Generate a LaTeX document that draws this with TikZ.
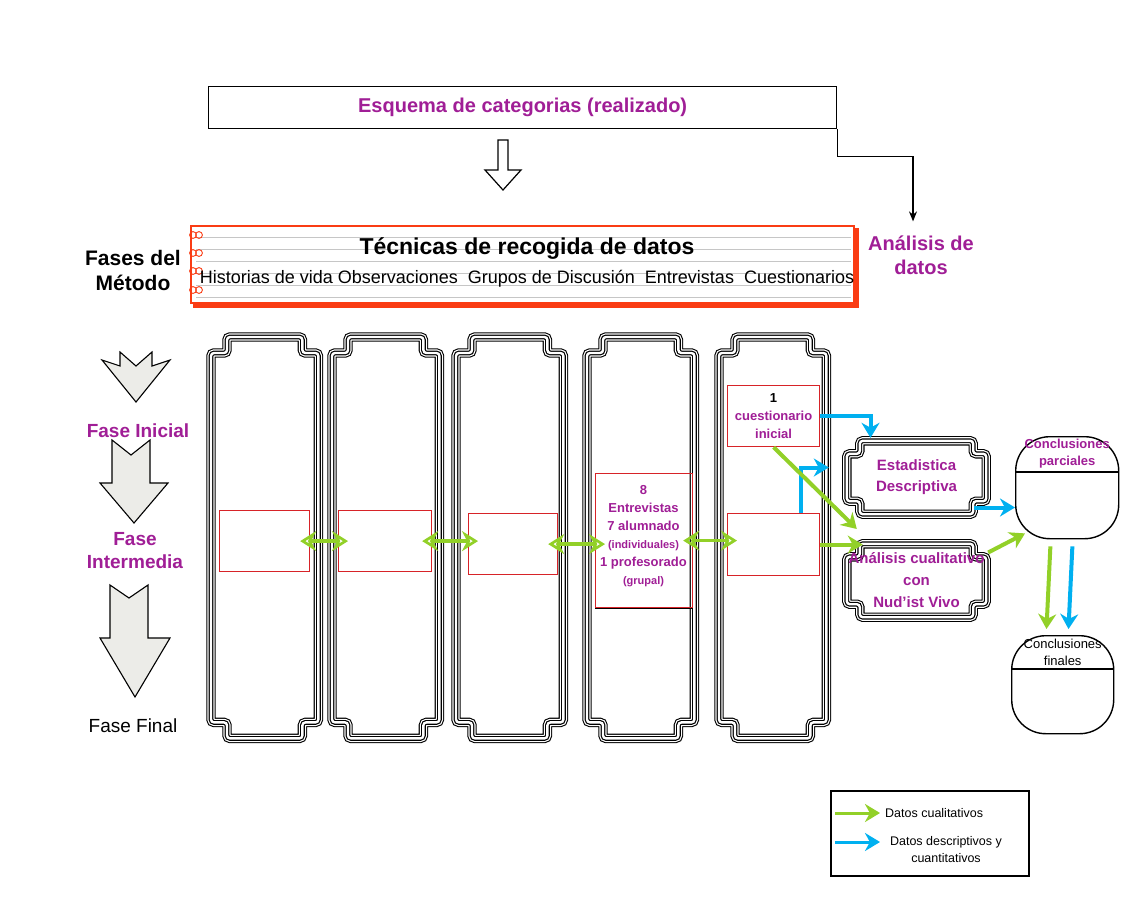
\documentclass[tikz,border=0pt]{standalone}
\usepackage{fontspec}
\setmainfont{Liberation Sans}
\usetikzlibrary{arrows.meta,calc}

\definecolor{magtext}{RGB}{160,30,150}
\definecolor{notered}{RGB}{250,60,20}
\definecolor{boxred}{RGB}{215,35,40}
\definecolor{qualgreen}{RGB}{146,208,40}
\definecolor{quantblue}{RGB}{0,176,240}
\definecolor{chevgray}{RGB}{236,236,232}

\newcommand\fsize[2]{\fontsize{#1}{#2}\selectfont}

% four parallel outlines with notched corners round a node
\newcommand\plaque[2]{%
  \foreach \lw/\clr in {9.4/black,7.2/white,4.8/black,2.4/white}
    \draw[line width=\lw pt,draw=\clr,rounded corners=3pt]
      let \p1=(#1.north west), \p2=(#1.south east) in
      (\x1,\y1-#2) -- (\x1+#2,\y1-#2) -- (\x1+#2,\y1) -- (\x2-#2,\y1)
      -- (\x2-#2,\y1-#2) -- (\x2,\y1-#2) -- (\x2,\y2+#2) -- (\x2-#2,\y2+#2)
      -- (\x2-#2,\y2) -- (\x1+#2,\y2) -- (\x1+#2,\y2+#2) -- (\x1,\y2+#2) -- cycle;
}

\begin{document}
\begin{tikzpicture}[x=1pt,y=-1pt,
    txt/.style={inner sep=0pt, align=center},
    magtxt/.style={txt, text=magtext, font=\bfseries\fsize{20}{24}},
    redbox/.style={draw=boxred, line width=1.2pt, inner sep=0pt, anchor=north west, align=center},
    colbox/.style={inner sep=0pt, anchor=north west, minimum width=107pt, minimum height=401pt},
    platebox/.style={inner sep=0pt, minimum width=139pt, minimum height=73pt},
    conclbox/.style={draw, line width=1.4pt, rounded corners=34pt, inner sep=0pt, anchor=north west},
    chev/.style={draw, line width=1.1pt, fill=chevgray, line join=miter},
    qual/.style={qualgreen, line width=4pt, -{Stealth[length=15pt,width=18pt]}},
    quant/.style={quantblue, line width=4pt, -{Stealth[length=15pt,width=18pt]}},
    dbl/.style={qualgreen, line width=3.6pt,
      {Stealth[open,length=16pt,width=20pt]}-{Stealth[open,length=16pt,width=20pt]},
      shorten <=-10pt, shorten >=-10pt}]

\useasboundingbox (0,0) rectangle (1130,907);
\fill[white] (0,0) rectangle (1130,907);

% category scheme and link to the analysis
\node[draw, line width=1.3pt, minimum width=628pt, minimum height=42pt, inner sep=0pt,
  anchor=north west, text=magtext, font=\bfseries\fsize{20}{24}] (esquema) at (208,86)
  {Esquema de categorias (realizado)};
\node[magtxt] (analisis) at (921,255) {Análisis de\\datos};
\draw[line width=1.2pt, -{Stealth[length=10pt,width=8pt]}, shorten >=14pt]
  (esquema.south east) -- ++(0,27) -| ([xshift=-8pt]analisis.north);
\draw[line width=1.2pt, fill=white] (498,140) -- (508,140) -- (508,170) -- (521,170)
  -- (503,190) -- (485,170) -- (498,170) -- cycle;

% notebook with the data collection techniques
\foreach \yy in {237,249,...,297}
  \draw[gray!45, line width=0.7pt] (196,\yy) -- (851,\yy);
\node[draw=notered, line width=1.8pt, minimum width=663pt, minimum height=77pt,
  inner sep=0pt, anchor=north west] (tecnicas) at (190,225) {};
\draw[notered, line width=3.5pt] ([xshift=2pt,yshift=-3pt]tecnicas.north east)
  |- ([xshift=3pt,yshift=-2pt]tecnicas.south west);
\foreach \yy in {235,253,271,290}
  \draw[notered, line width=0.9pt] (193,\yy) circle (3.4pt) (199,\yy) circle (3.4pt);
\node[txt, font=\bfseries\fsize{23}{27}] (tectit) at (527,249) {Técnicas de recogida de datos};
\node[txt, font=\fsize{18}{21}] (tecrow) at (527,279)
  {Historias de vida Observaciones~~Grupos de Discusión~~Entrevistas~~Cuestionarios};
\node[txt, font=\bfseries\fsize{21}{25}] (fases) at (133,270) {Fases del\\Método};

% phase arrows
\draw[chev] (102,360) -- (120,366) -- (120,352) -- (136,366) -- (152,352) -- (152,366)
  -- (170,360) -- (136,402) -- cycle;
\draw[chev] (112,440) -- (131,455) -- (150,440) -- (150,483) -- (168,483) -- (134,523)
  -- (100,483) -- (112,483) -- cycle;
\draw[chev] (110,585) -- (129,598) -- (148,585) -- (148,638) -- (170,638) -- (135,697)
  -- (100,638) -- (110,638) -- cycle;
\node[magtxt, font=\bfseries\fsize{19}{23}] (finicial) at (138,431) {Fase Inicial};
\node[magtxt, font=\bfseries\fsize{19}{23}] (fintermedia) at (135,551) {Fase\\Intermedia};
\node[txt, font=\fsize{19}{23}] (ffinal) at (133,726) {Fase Final};

% one column per technique
\foreach \k/\xx in {1/211,2/332,3/456,4/587,5/719} {
  \node[colbox] (col\k) at (\xx,337) {};
  \plaque{col\k}{16pt}
}

\node[redbox, minimum width=90pt, minimum height=61pt] (box1) at (219,510) {};
\node[redbox, minimum width=93pt, minimum height=61pt] (box2) at (338,510) {};
\node[redbox, minimum width=89pt, minimum height=61pt] (box3) at (468,513) {};
\node[redbox, minimum width=97pt, minimum height=134pt] (box4) at (595,473) {};
\draw[line width=1.2pt] (box4.south west) -- (box4.south east);
\node[magtxt, font=\bfseries\fsize{13}{18}] (box4txt) at (643.5,536)
  {8\\Entrevistas\\7 alumnado\\{\fsize{11}{18}(individuales)}\\1 profesorado\\{\fsize{11}{18}(grupal)}};
\node[redbox, minimum width=92pt, minimum height=61pt, text=magtext,
  font=\bfseries\fsize{13}{18}] (cuest) at (727,385) {\textcolor{black}{1}\\cuestionario\\inicial};
\node[redbox, minimum width=92pt, minimum height=62pt] (box5) at (727,513) {};

\foreach \a/\b in {box1/box2,box2/box3,box3/box4,box4/box5}
  \draw[dbl] (\a.east) -- (\a.east -| \b.west);

% analysis boxes
\node[platebox] (estad) at (916.5,477.5) {};
\plaque{estad}{13pt}
\node[magtxt, font=\bfseries\fsize{15}{21}] (estadtxt) at (estad) {Estadistica\\Descriptiva};
\node[platebox] (cualit) at (916.5,580.5) {};
\plaque{cualit}{13pt}
\node[magtxt, font=\bfseries\fsize{15}{22}] (cualtxt) at (cualit) {Análisis cualitativo\\con\\Nud'ist Vivo};

% conclusions
\node[conclbox, minimum width=103pt, minimum height=102pt] (parc) at (1015,436) {};
\draw[line width=1.4pt] ([yshift=-36pt]parc.north west) -- ([yshift=-36pt]parc.north east);
\node[magtxt, font=\bfseries\fsize{13}{17}] (parctxt) at ([yshift=-18pt]parc.north) {Conclusiones\\parciales};
\node[conclbox, minimum width=102pt, minimum height=98pt] (fin) at (1011,635) {};
\draw[line width=1.4pt] ([yshift=-34pt]fin.north west) -- ([yshift=-34pt]fin.north east);
\node[txt, font=\fsize{13}{17}] (fintxt) at ([yshift=-17pt]fin.north) {Conclusiones\\finales};

% data flows
\draw[quant, shorten >=3pt] (cuest.east) -| ([xshift=-46pt]estad.north);
\draw[quant, shorten >=18pt] ([xshift=27pt]box5.north) |- ([yshift=10pt]estad.west);
\draw[quant] ([yshift=-30pt,xshift=-12pt]estad.east) -- ([yshift=-30pt]estad.east -| parc.west);
\draw[quant, shorten <=7pt, shorten >=6pt] ([xshift=5.5pt]parc.south) -- ([xshift=5.5pt]fin.north);
\draw[qual] (cuest.south) -- ($(estad.south west)!.5!(cualit.north west)+(10,0)$);
\draw[qual] (box5.east) -- ([xshift=16pt]box5.east -| cualit.west);
\draw[qual] ([yshift=28pt,xshift=2pt]cualit.east) -- ([xshift=10pt,yshift=6pt]parc.south west);
\draw[qual, shorten <=7pt, shorten >=6pt] ([xshift=-16.5pt]parc.south) -- ([xshift=-16.5pt]fin.north);

% legend
\node[draw, line width=1.8pt, minimum width=198pt, minimum height=85pt, inner sep=0pt,
  anchor=north west] (legend) at (830,790) {};
\coordinate (lgq) at (835,813);
\coordinate (lgqe) at (880,813);
\coordinate (lgd) at (835,842);
\coordinate (lgde) at (880,842);
\draw[qual, line width=3pt] (lgq) -- (lgqe);
\draw[quant, line width=3pt] (lgd) -- (lgde);
\node[txt, font=\fsize{12.5}{16}, anchor=west] (lgqtxt) at (885,813) {Datos cualitativos};
\node[txt, font=\fsize{12.5}{17}] (lgdtxt) at (946,850) {Datos descriptivos y\\cuantitativos};
\end{tikzpicture}
\end{document}
